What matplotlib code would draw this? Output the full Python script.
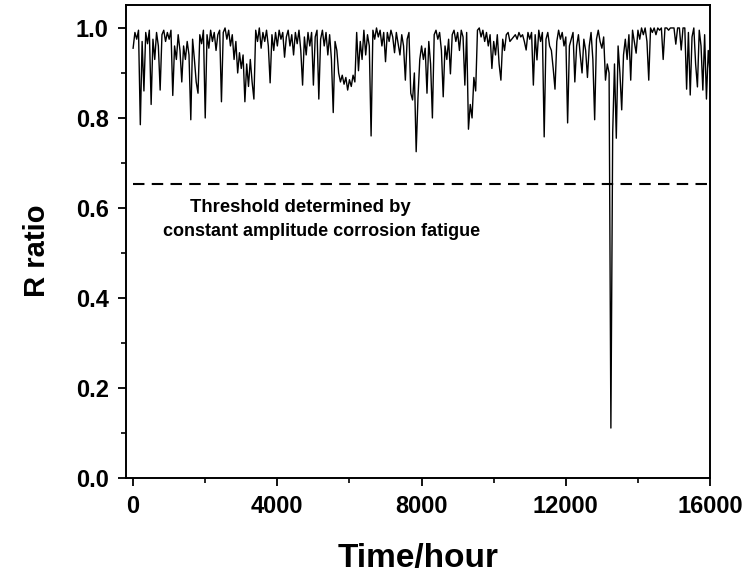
import numpy as np
import matplotlib
matplotlib.use("Agg")
import matplotlib.pyplot as plt
from matplotlib.ticker import MultipleLocator

# R ratio, one value every 50 hours (0 .. 16000 h)
r_0k = [0.955, 0.99, 0.975, 0.995, 0.785, 0.97, 0.86, 0.99, 0.965, 0.995,
        0.83, 0.975, 0.93, 0.99, 0.96, 0.862, 0.985, 0.995, 0.97, 0.99]
r_1k = [0.975, 0.995, 0.85, 0.96, 0.93, 0.985, 0.95, 0.88, 0.96, 0.93,
        0.97, 0.94, 0.796, 0.975, 0.93, 0.88, 0.855, 0.985, 0.965, 0.995]
r_2k = [0.80, 0.985, 0.955, 0.995, 0.97, 0.99, 0.95, 0.985, 0.995, 0.836,
        0.99, 1.0, 0.975, 0.995, 0.96, 0.985, 0.93, 0.97, 0.90, 0.945]
r_3k = [0.91, 0.94, 0.836, 0.92, 0.87, 0.93, 0.88, 0.842, 0.995, 0.97,
        1.0, 0.955, 0.99, 0.97, 0.995, 0.96, 0.878, 0.985, 0.95, 0.99]
r_4k = [0.96, 0.995, 0.975, 0.99, 0.935, 0.98, 0.995, 0.96, 0.985, 0.94,
        0.99, 0.965, 0.995, 0.95, 0.873, 0.98, 0.94, 0.99, 0.96, 0.99]
r_5k = [0.873, 0.98, 0.995, 0.842, 0.975, 0.995, 0.96, 0.99, 0.94, 0.985,
        0.93, 0.812, 0.97, 0.95, 0.90, 0.88, 0.895, 0.875, 0.89, 0.862]
r_6k = [0.885, 0.87, 0.895, 0.88, 0.99, 0.905, 0.97, 0.93, 0.995, 0.94,
        0.985, 0.96, 0.76, 0.995, 0.975, 1.0, 0.98, 0.995, 0.96, 0.99]
r_7k = [0.925, 0.99, 0.97, 0.995, 0.98, 0.945, 0.99, 0.965, 0.94, 0.985,
        0.96, 0.884, 0.975, 0.99, 0.855, 0.84, 0.90, 0.725, 0.845, 0.93]
r_8k = [0.96, 0.93, 0.955, 0.855, 0.97, 0.92, 0.80, 0.985, 0.995, 0.975,
        0.99, 0.95, 0.847, 0.96, 0.93, 0.975, 0.898, 0.985, 0.995, 0.97]
r_9k = [0.99, 0.95, 0.995, 0.98, 0.873, 0.99, 0.775, 0.83, 0.80, 0.89,
        0.86, 0.995, 1.0, 0.98, 0.995, 0.97, 0.99, 0.96, 0.985, 0.91]
r_10k = [0.97, 0.94, 0.985, 0.92, 0.884, 0.975, 0.95, 0.985, 0.99, 0.97,
         0.975, 0.98, 0.985, 0.975, 0.99, 0.98, 0.985, 0.97, 0.951, 0.99]
r_11k = [0.975, 0.99, 0.873, 0.985, 0.929, 0.995, 0.97, 0.99, 0.758, 0.975,
         0.99, 0.96, 0.95, 0.91, 0.864, 0.97, 0.995, 0.975, 0.99, 0.96]
r_12k = [0.98, 0.789, 0.96, 0.975, 0.99, 0.88, 0.96, 0.985, 0.94, 0.90,
         0.975, 0.95, 0.89, 0.96, 0.99, 0.93, 0.796, 0.975, 0.995, 0.97]
r_13k = [0.955, 0.98, 0.884, 0.92, 0.90, 0.111, 0.767, 0.92, 0.755, 0.96,
         0.90, 0.818, 0.94, 0.975, 0.93, 0.985, 0.884, 0.995, 0.97, 0.944]
r_14k = [0.995, 0.975, 1.0, 0.985, 1.0, 0.97, 0.884, 1.0, 0.99, 1.0,
         0.985, 1.0, 0.995, 1.0, 0.93, 1.0, 1.0, 0.995, 1.0, 1.0]
r_15k = [1.0, 0.964, 1.0, 1.0, 0.951, 1.0, 1.0, 0.864, 0.99, 0.851,
         0.98, 1.0, 0.92, 0.869, 0.995, 0.96, 0.862, 0.985, 0.842, 0.95, 0.90]

r_ratio = (r_0k + r_1k + r_2k + r_3k + r_4k + r_5k + r_6k + r_7k + r_8k
           + r_9k + r_10k + r_11k + r_12k + r_13k + r_14k + r_15k)
time_h = np.arange(len(r_ratio)) * 50

threshold = 0.653
threshold_span = [0, 16000]
x_ticks = [0, 4000, 8000, 12000, 16000]
y_ticks = [0.0, 0.2, 0.4, 0.6, 0.8, 1.0]

plt.rcParams['font.family'] = ['Liberation Sans', 'DejaVu Sans']
plt.rcParams['font.weight'] = 'bold'

fig = plt.figure(figsize=(7.49, 5.75), dpi=100)
ax = fig.add_axes([0.1676, 0.1687, 0.7804, 0.8226])

ax.plot(time_h, r_ratio, color='black', linewidth=1.0)
ax.plot(threshold_span, [threshold, threshold], color='black',
        linewidth=1.5, linestyle=(0, (5.5, 3.5)))

ax.text(1580, 0.600, "Threshold determined by", fontsize=13.3,
        fontweight='bold', ha='left', va='center')
ax.text(830, 0.547, "constant amplitude corrosion fatigue", fontsize=13,
        fontweight='bold', ha='left', va='center')

ax.set_xlim(-210, 16000)
ax.set_ylim(0, 1.051)
ax.set_xticks(x_ticks)
ax.set_xticklabels([str(v) for v in x_ticks])
ax.set_yticks(y_ticks)
ax.set_yticklabels([f"{v:.1f}" for v in y_ticks])
ax.xaxis.set_minor_locator(MultipleLocator(2000))
ax.yaxis.set_minor_locator(MultipleLocator(0.1))
ax.tick_params(which='major', direction='out', length=6, width=1.3,
               labelsize=17, pad=6)
ax.tick_params(which='minor', direction='out', length=3.5, width=1.2)
for lab in ax.get_xticklabels() + ax.get_yticklabels():
    lab.set_fontweight('bold')
for sp in ax.spines.values():
    sp.set_linewidth(1.4)

ax.set_xlabel("Time/hour", fontsize=24, fontweight='bold', labelpad=18)
ax.set_ylabel("R ratio", fontsize=21, fontweight='bold')
ax.yaxis.set_label_coords(-0.128, 0.48)

plt.savefig("out.png", dpi=100)
